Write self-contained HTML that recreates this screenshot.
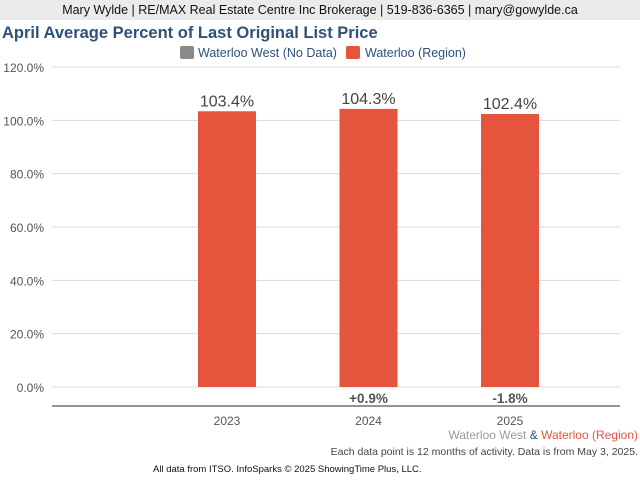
<!DOCTYPE html>
<html><head><meta charset="utf-8"><style>
body{margin:0;width:640px;height:480px;background:#fff;font-family:"Liberation Sans",sans-serif;overflow:hidden;position:relative}
</style></head><body>
<div style="position:absolute;left:0;top:0;width:640px;height:20px;background:#ebebeb;font-size:12.5px;text-align:center;line-height:21px;color:#111">Mary Wylde | RE/MAX Real Estate Centre Inc Brokerage | 519-836-6365 | mary@gowylde.ca</div>
<div style="position:absolute;left:2px;top:24px;font-size:16.5px;font-weight:bold;color:#2e5177">April Average Percent of Last Original List Price</div>
<svg id="c" width="640" height="480" style="position:absolute;left:0;top:0"></svg>
<script>
const categories=["2023","2024","2025"];
const values=[103.4,104.3,102.4];
const valueLabels=["103.4%","104.3%","102.4%"];
const changeLabels=["","+0.9%","-1.8%"];
const ticks=[0,20,40,60,80,100,120];
const tickLabels=["0.0%","20.0%","40.0%","60.0%","80.0%","100.0%","120.0%"];
const NS="http://www.w3.org/2000/svg";
const svg=document.getElementById('c');
const y=v=>387-v*(320/120);
const x=i=>227+i*141.5;
function mk(t,a,txt){const e=document.createElementNS(NS,t);for(const k in a)e.setAttribute(k,a[k]);if(txt!==undefined)e.textContent=txt;svg.appendChild(e);return e;}
// legend
let e=mk('rect',{x:180,y:46,width:14,height:13,rx:2,fill:'#868b8a'});

e=mk('text',{x:198,y:57,'font-size':12.5,fill:'#2e5177'},'Waterloo West (No Data)');

e=mk('rect',{x:346,y:46,width:14,height:13,rx:2,fill:'#e5553d'});

e=mk('text',{x:365,y:57,'font-size':12.5,fill:'#2e5177'},'Waterloo (Region)');

ticks.forEach((t,i)=>{
 e=mk('line',{x1:52,x2:620,y1:y(t),y2:y(t),stroke:'#d8d8d8','stroke-width':1});
 
 e=mk('text',{x:44,y:y(t)+5,'font-size':12,fill:'#555','text-anchor':'end'},tickLabels[i]);
 
});
e=mk('line',{x1:52,x2:620,y1:406,y2:406,stroke:'#555','stroke-width':1.2});

categories.forEach((c,i)=>{
 e=mk('rect',{x:x(i)-29,y:y(values[i]),width:58,height:387-y(values[i]),fill:'#e5553d'});
 
 e=mk('text',{x:x(i),y:y(values[i])-5,'font-size':16,fill:'#444','text-anchor':'middle'},valueLabels[i]);
 
 e=mk('text',{x:x(i),y:425,'font-size':12,fill:'#555','text-anchor':'middle'},c);
 
 if(changeLabels[i]){
  e=mk('text',{x:x(i),y:403,'font-size':13.5,'font-weight':'bold',fill:'#555','text-anchor':'middle'},changeLabels[i]);
  
 }
});
</script>
<div style="position:absolute;right:2px;top:428px;font-size:12px;color:#999">Waterloo West <span style="color:#2e5177">&amp;</span> <span style="color:#e5553d">Waterloo (Region)</span></div>
<div style="position:absolute;right:2px;top:446px;font-size:10.5px;color:#444">Each data point is 12 months of activity. Data is from May 3, 2025.</div>
<div style="position:absolute;left:153px;top:464px;font-size:9.5px;color:#111">All data from ITSO. InfoSparks © 2025 ShowingTime Plus, LLC.</div>
</body></html>
